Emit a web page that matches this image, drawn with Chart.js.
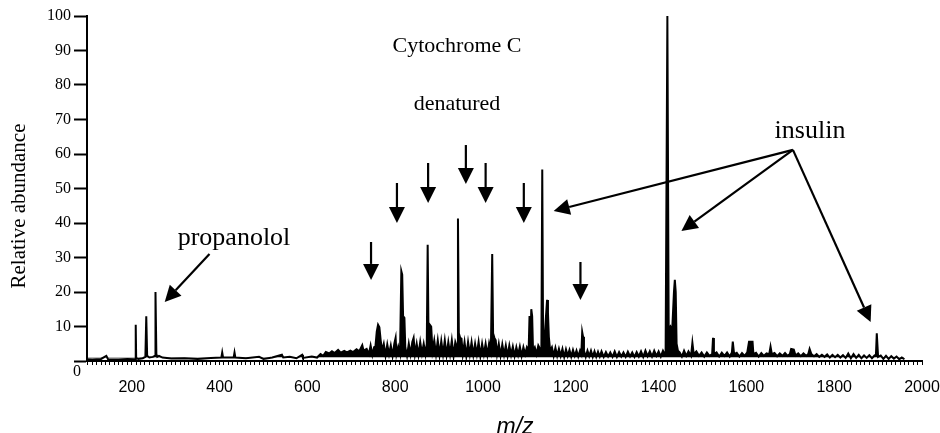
<!DOCTYPE html>
<html>
<head>
<meta charset="utf-8">
<style>
  html, body { margin: 0; padding: 0; background: #fff; }
  canvas { display: block; }
</style>
<script src="https://cdn.jsdelivr.net/npm/chart.js@4/dist/chart.umd.min.js"></script>
</head>
<body>
<canvas id="spectrum" width="940" height="433"></canvas>
<script>
// spectrum trace, [m/z, relative abundance]
const lowMassTrace = [
  [98, 0.5], [110, 0.4], [130, 0.6], [142, 1.5], [146, 0.5], [170, 0.4], [190, 0.6], [205, 0.5],
  [208, 0.5], [209, 10.5], [210, 0.8], [215, 0.6], [225, 0.8], [231, 1.2], [233, 13], [235, 1.5],
  [240, 1.0], [248, 1.2], [253, 1.5], [254, 20], [256, 2.0], [258, 1.2], [262, 1.5], [270, 1.0],
  [290, 0.7], [320, 0.8], [350, 0.6], [380, 0.9], [404, 1.0], [406, 2.5], [408, 1.0], [432, 1.0],
  [434, 2.5], [436, 1.0], [460, 0.8], [490, 1.2], [500, 0.6], [520, 1.0], [542, 1.8], [545, 1.0],
  [560, 1.2], [575, 0.8], [588, 1.8], [590, 0.9], [610, 1.3], [622, 1.0], [630, 2.0], [636, 1.5],
  [642, 2.6], [650, 2.2], [656, 2.8], [662, 2.3], [670, 3.2], [676, 2.4], [684, 2.9], [690, 2.5],
  [698, 3.0], [704, 2.6], [712, 3.4], [718, 2.8], [725, 4.6], [728, 3.0], [735, 3.5]
];

const cytochromeTrace = [
  [740, 2.0], [744, 4.5], [748, 1.8], [752, 4.0], [755, 4.2], [758, 8.5], [761, 10.5], [764, 9.8],
  [767, 6.0], [770, 3.0], [774, 5.0], [778, 1.6], [782, 4.8], [786, 2.0], [790, 4.5], [794, 1.5],
  [798, 5.0], [801, 6.7], [803, 2.0], [807, 4.2], [811, 2.2], [814, 26], [816, 25], [818, 13],
  [821, 12.5], [823, 4.0], [827, 1.5], [831, 5.0], [835, 2.0], [839, 5.5], [842, 6.7], [845, 2.0],
  [849, 5.0], [853, 1.8], [857, 5.5], [861, 2.2], [865, 5.0], [869, 2.0], [872, 5.0], [874, 33.7],
  [876, 6.0], [879, 10.5], [882, 10.0], [885, 3.0], [889, 6.0], [893, 2.0], [897, 6.0], [901, 1.8],
  [905, 5.8], [909, 2.0], [913, 6.0], [917, 1.8], [921, 5.5], [925, 2.0], [929, 6.0], [933, 1.5],
  [937, 5.5], [941, 4.0], [943, 41.3], [945, 8.0], [948, 6.7], [951, 6.5], [954, 2.0], [958, 5.5],
  [962, 1.5], [966, 5.5], [970, 2.0], [974, 5.5], [978, 1.8], [982, 5.0], [986, 2.0], [990, 5.5],
  [994, 1.5], [998, 5.0], [1002, 2.0], [1006, 5.0], [1010, 1.8], [1014, 5.2], [1018, 3.0], [1021, 31],
  [1023, 8.0], [1026, 6.7], [1029, 6.0], [1032, 2.0], [1036, 5.0], [1040, 1.6], [1044, 4.8], [1048, 1.8],
  [1052, 4.5], [1056, 1.5], [1060, 4.5], [1064, 1.8], [1068, 4.2], [1072, 1.5], [1076, 4.0], [1080, 1.8],
  [1084, 4.2], [1088, 1.5], [1092, 4.0], [1096, 2.0], [1100, 4.0], [1104, 3.0], [1106, 13], [1108, 5.0],
  [1110, 15], [1112, 13], [1114, 3.0], [1118, 4.0], [1122, 2.0], [1126, 4.5], [1130, 3.5], [1133, 3.0],
  [1135, 55.5], [1137, 4.0], [1140, 6.0], [1143, 12], [1146, 17.7], [1148, 14], [1150, 7.0], [1153, 3.0],
  [1157, 4.0], [1161, 1.5], [1165, 3.8], [1169, 1.5], [1173, 3.5], [1177, 1.5], [1181, 3.5], [1185, 1.2],
  [1189, 3.4], [1193, 1.5], [1197, 3.2], [1201, 1.3], [1205, 3.2], [1209, 1.5], [1213, 3.0], [1217, 1.3],
  [1221, 3.0], [1224, 2.0], [1226, 8.4], [1228, 7.0], [1230, 3.0], [1234, 1.2], [1238, 3.0], [1242, 1.4],
  [1246, 3.0], [1250, 1.2], [1254, 2.8], [1258, 1.2], [1262, 2.7], [1266, 1.3], [1270, 2.8], [1275, 1.2],
  [1280, 2.6], [1285, 1.3], [1290, 2.5], [1295, 1.2], [1300, 2.8], [1305, 1.2], [1310, 2.6], [1315, 1.3],
  [1320, 2.5], [1325, 1.2], [1330, 2.7], [1335, 1.3], [1340, 2.5], [1345, 1.2], [1350, 2.6], [1355, 1.3],
  [1360, 2.8], [1365, 1.2], [1370, 3.0], [1375, 1.4], [1380, 2.8], [1385, 1.3], [1390, 3.0], [1395, 1.5],
  [1400, 2.8], [1405, 1.3], [1410, 3.0], [1414, 2.0]
];

const insulinTrace = [
  [1416, 2.0], [1420, 100], [1423, 9.0], [1427, 10], [1431, 9.0], [1435, 20], [1437, 23.5], [1439, 20],
  [1441, 5.0], [1444, 3.0], [1448, 2.5], [1453, 1.3], [1458, 3.0], [1463, 1.5], [1468, 2.8], [1474, 1.5],
  [1477, 5.3], [1480, 2.0], [1486, 2.8], [1492, 1.5], [1498, 2.5], [1504, 1.3], [1510, 2.5], [1516, 1.5],
  [1522, 2.0], [1524, 6.7], [1526, 2.0], [1532, 2.5], [1538, 1.3], [1544, 2.4], [1550, 1.5], [1556, 2.5],
  [1562, 1.3], [1567, 2.5], [1569, 5.6], [1572, 2.0], [1578, 2.4], [1584, 1.3], [1590, 2.3], [1596, 1.5],
  [1602, 2.5], [1606, 5.6], [1614, 5.6], [1616, 2.0], [1622, 2.4], [1628, 1.3], [1634, 2.3], [1640, 1.5],
  [1646, 2.2], [1652, 2.0], [1655, 4.2], [1658, 2.0], [1664, 2.3], [1670, 1.4], [1676, 2.2], [1682, 1.5],
  [1688, 2.3], [1694, 1.5], [1699, 2.0], [1702, 3.5], [1708, 3.3], [1712, 1.6], [1718, 2.2], [1724, 1.4],
  [1730, 2.2], [1736, 1.5], [1741, 2.0], [1744, 3.5], [1748, 2.0], [1754, 1.4], [1760, 2.0], [1766, 1.2],
  [1772, 1.8], [1778, 1.2], [1784, 1.9], [1790, 1.0], [1796, 1.8], [1802, 1.1], [1808, 1.8], [1814, 1.0],
  [1820, 1.7], [1826, 0.9], [1832, 2.2], [1838, 0.8], [1844, 2.0], [1850, 0.9], [1856, 1.8], [1862, 0.8],
  [1868, 1.6], [1874, 0.9], [1880, 1.7], [1886, 0.8], [1892, 1.6], [1895, 1.5], [1897, 8.0], [1900, 1.2],
  [1906, 1.6], [1912, 0.6], [1918, 1.5], [1924, 0.6], [1930, 1.4], [1936, 0.7], [1942, 1.3], [1948, 0.5],
  [1954, 1.0], [1960, 0.5]
];

const xTickLabels = [200, 400, 600, 800, 1000, 1200, 1400, 1600, 1800, 2000];
const yTickLabels = [10, 20, 30, 40, 50, 60, 70, 80, 90, 100];

// annotation arrows, in data units
const chargeArrowMz = [745, 804, 875, 961, 1006, 1093, 1222];
const chargeArrowTop = [34.5, 51.6, 57.4, 62.6, 57.4, 51.6, 28.7];
const chargeArrowTip = [23.5, 40, 45.8, 51.3, 45.8, 40, 17.7];
const insulinOrigin = [1706, 61.2];
const insulinTips = [[1161, 43.5], [1452, 37.7], [1883, 11.3]];
const propanololArrow = [[377, 31], [275, 17.1]];

const spectrum = lowMassTrace.concat(cytochromeTrace, insulinTrace).map(p => ({ x: p[0], y: p[1] }));

function drawArrow(ctx, x1, y1, x2, y2) {
  const ang = Math.atan2(y2 - y1, x2 - x1);
  const head = 16, half = 8;
  const bx = x2 - head * Math.cos(ang), by = y2 - head * Math.sin(ang);
  ctx.beginPath();
  ctx.moveTo(x1, y1);
  ctx.lineTo(bx, by);
  ctx.stroke();
  ctx.beginPath();
  ctx.moveTo(x2, y2);
  ctx.lineTo(bx + half * Math.sin(ang), by - half * Math.cos(ang));
  ctx.lineTo(bx - half * Math.sin(ang), by + half * Math.cos(ang));
  ctx.closePath();
  ctx.fill();
}

const annotations = {
  id: 'annotations',
  afterDatasetsDraw(chart) {
    const ctx = chart.ctx;
    const xs = chart.scales.x, ys = chart.scales.y;
    const px = v => xs.getPixelForValue(v);
    const py = v => ys.getPixelForValue(v);
    ctx.save();
    ctx.fillStyle = '#000';
    ctx.strokeStyle = '#000';
    ctx.lineWidth = 2.2;

    for (let i = 0; i < chargeArrowMz.length; i++) {
      drawArrow(ctx, px(chargeArrowMz[i]), py(chargeArrowTop[i]), px(chargeArrowMz[i]), py(chargeArrowTip[i]));
    }
    insulinTips.forEach(t => {
      drawArrow(ctx, px(insulinOrigin[0]), py(insulinOrigin[1]), px(t[0]), py(t[1]));
    });
    drawArrow(ctx, px(propanololArrow[0][0]), py(propanololArrow[0][1]), px(propanololArrow[1][0]), py(propanololArrow[1][1]));

    ctx.textAlign = 'center';
    ctx.textBaseline = 'alphabetic';
    ctx.font = '22px "Liberation Serif"';
    ctx.fillText('Cytochrome C', 457, 52);
    ctx.fillText('denatured', 457, 110);
    ctx.font = '26px "Liberation Serif"';
    ctx.fillText('propanolol', 234, 245);
    ctx.fillText('insulin', 810, 138);

    ctx.font = '16px "Liberation Serif"';
    ctx.fillText('0', 77, 376);

    ctx.font = 'italic 23px "Liberation Sans"';
    ctx.textBaseline = 'middle';
    ctx.fillText('m/z', 515, 428);

    ctx.save();
    ctx.translate(19, 206);
    ctx.rotate(-Math.PI / 2);
    ctx.font = '21px "Liberation Serif"';
    ctx.fillText('Relative abundance', 0, 0);
    ctx.restore();

    ctx.restore();
  }
};

new Chart(document.getElementById('spectrum'), {
  type: 'line',
  data: {
    datasets: [{
      data: spectrum,
      borderColor: '#000',
      borderWidth: 2,
      pointRadius: 0,
      tension: 0,
      // the noisy baseline prints as a solid dark band
      fill: { target: { value: 1.0 }, above: '#000' }
    }]
  },
  options: {
    responsive: false,
    animation: false,
    layout: { padding: { top: 16, right: 18, left: 0, bottom: 0 } },
    plugins: { legend: { display: false }, tooltip: { enabled: false } },
    scales: {
      x: {
        type: 'linear',
        min: 98,
        max: 2000,
        border: { color: '#000', width: 2 },
        grid: { drawOnChartArea: false, color: '#000', tickLength: 4, tickWidth: 1 },
        ticks: {
          stepSize: 10,
          autoSkip: false,
          maxRotation: 0,
          color: '#000',
          padding: 13,
          font: { family: '"Liberation Sans"', size: 16 },
          callback: v => xTickLabels.includes(v) ? String(v) : ''
        },
        afterFit: s => { s.height = 72; s.paddingLeft = 0; s.paddingRight = 0; }
      },
      y: {
        min: 0,
        max: 100,
        border: { color: '#000', width: 2 },
        grid: { drawOnChartArea: false, color: '#000', tickLength: 13, tickWidth: 2 },
        ticks: {
          stepSize: 10,
          color: '#000',
          padding: 3,
          font: { family: '"Liberation Serif"', size: 16 },
          callback: v => yTickLabels.includes(v) ? String(v) : ''
        },
        afterFit: s => { s.width = 87; }
      }
    }
  },
  plugins: [annotations]
});
</script>
</body>
</html>
